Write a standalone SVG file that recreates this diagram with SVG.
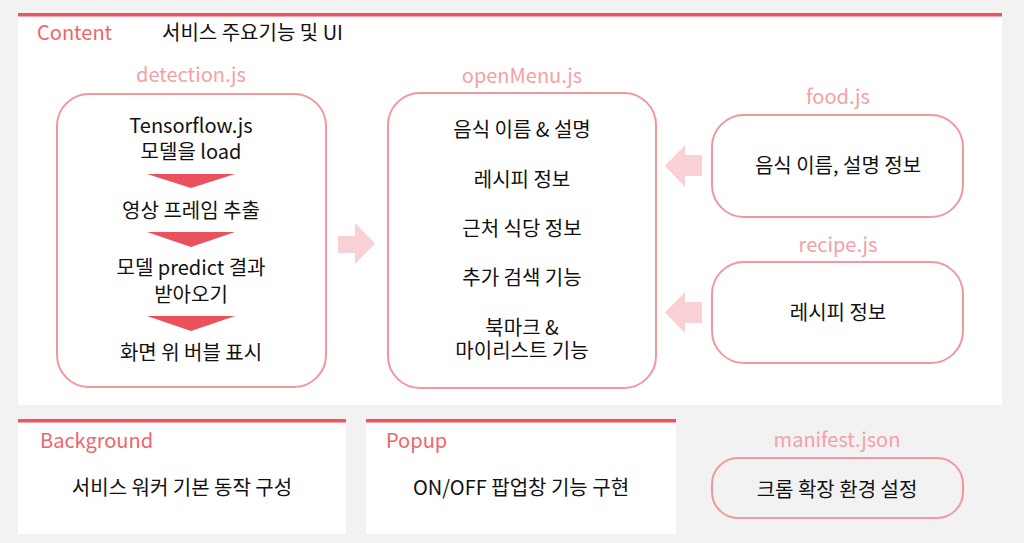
<svg xmlns="http://www.w3.org/2000/svg" width="1024" height="543" viewBox="0 0 1024 543">
<style>
text{font-family:"Noto Sans CJK KR","Noto Sans",sans-serif;font-size:20px;fill:#111}
.c{text-anchor:middle}
.sec{fill:#f0646c}
.lbl{fill:#f5a0a5;text-anchor:middle}
.box{fill:#fff;stroke:#f4979c;stroke-width:2}
.bar{fill:#ee5360}
.panel{fill:#fff}
.tri{fill:#ea515d}
.arr{fill:#f9d0d4}
</style>
<rect width="1024" height="543" fill="#f2f2f2"/>
<g id="content-panel">
<rect class="panel" x="18" y="13" width="984" height="392"/>
<rect class="bar" x="18" y="13" width="984" height="3.5"/>
<text class="sec" x="37" y="40">Content</text>
<text x="162" y="40">서비스 주요기능 및 UI</text>
</g>
<g id="detection">
<text class="lbl" x="191" y="82">detection.js</text>
<rect class="box" x="57" y="94" width="269" height="293" rx="32"/>
<text class="c" x="191" y="133">Tensorflow.js</text>
<text class="c" x="191" y="159">모델을 load</text>
<polygon class="tri" points="147,174 235,174 191,188"/>
<text class="c" x="191" y="218">영상 프레임 추출</text>
<polygon class="tri" points="147,232 235,232 191,247"/>
<text class="c" x="191" y="275">모델 predict 결과</text>
<text class="c" x="191" y="302">받아오기</text>
<polygon class="tri" points="147,316 235,316 191,331"/>
<text class="c" x="191" y="360">화면 위 버블 표시</text>
</g>
<g id="openMenu">
<text class="lbl" x="522" y="83">openMenu.js</text>
<rect class="box" x="388" y="93" width="268" height="295" rx="32"/>
<text class="c" x="522" y="137">음식 이름 &amp; 설명</text>
<text class="c" x="522" y="187">레시피 정보</text>
<text class="c" x="522" y="236">근처 식당 정보</text>
<text class="c" x="522" y="285">추가 검색 기능</text>
<text class="c" x="522" y="335">북마크 &amp;</text>
<text class="c" x="522" y="358">마이리스트 기능</text>
</g>
<g id="food">
<text class="lbl" x="838" y="104">food.js</text>
<rect class="box" x="712" y="115" width="251" height="102" rx="32"/>
<text class="c" x="838" y="173">음식 이름, 설명 정보</text>
</g>
<g id="recipe">
<text class="lbl" x="838" y="252">recipe.js</text>
<rect class="box" x="712" y="262" width="251" height="101" rx="32"/>
<text class="c" x="838" y="320">레시피 정보</text>
</g>
<g id="connectors">
<polygon class="arr" points="338,236 355,236 355,223 375,243.5 355,264 355,253 338,253"/>
<polygon class="arr" points="702,155 685,155 685,145 665,166 685,187 685,176 702,176"/>
<polygon class="arr" points="702,302 685,302 685,292 665,312.5 685,333 685,323 702,323"/>
</g>
<g id="background-panel">
<rect class="panel" x="18" y="419" width="328" height="115"/>
<rect class="bar" x="18" y="419" width="328" height="3.5"/>
<text class="sec" x="40" y="448">Background</text>
<text class="c" x="182" y="495">서비스 워커 기본 동작 구성</text>
</g>
<g id="popup-panel">
<rect class="panel" x="366" y="419" width="310" height="115"/>
<rect class="bar" x="366" y="419" width="310" height="3.5"/>
<text class="sec" x="386" y="448">Popup</text>
<text class="c" x="521" y="495">ON/OFF 팝업창 기능 구현</text>
</g>
<g id="manifest">
<text class="lbl" x="837" y="447">manifest.json</text>
<rect x="712" y="458" width="251" height="60" rx="26" fill="none" stroke="#f4979c" stroke-width="2"/>
<text class="c" x="837" y="497">크롬 확장 환경 설정</text>
</g>
</svg>
